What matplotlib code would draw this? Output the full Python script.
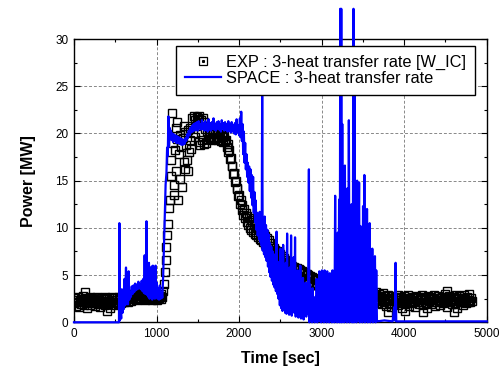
import matplotlib

matplotlib.use("Agg")
import matplotlib.pyplot as plt
import numpy as np
from matplotlib.legend_handler import HandlerTuple
from matplotlib.lines import Line2D
from matplotlib.ticker import MultipleLocator

plt.rcParams["font.family"] = ["Liberation Sans", "DejaVu Sans"]

# EXP measured heat transfer rate [MW], sampled every 10 s from t = 0
EXP_STEP = 10
EXP_POWER = [
    2.0, 2.6, 1.7, 2.4, 2.1, 2.7, 1.6, 2.3, 2.5, 1.9,
    2.2, 2.8, 1.8, 2.5, 2.0, 2.6, 1.5, 2.4, 2.2, 2.7,
    1.8, 2.3, 2.6, 2.0, 2.5, 1.7, 2.4, 2.1, 2.7, 1.9,
    2.4, 2.2, 1.6, 2.6, 2.0, 2.5, 2.3, 1.8, 2.7, 2.1,
    2.5, 1.9, 2.3, 2.6, 1.5, 2.2, 2.7, 2.0, 2.4, 1.8,
    2.6, 2.1, 2.4, 1.9, 2.7, 2.2, 2.5, 2.0, 2.8, 2.3,
    2.6, 2.2, 2.9, 2.4, 2.7, 2.1, 2.8, 2.5, 3.0, 2.3,
    2.7, 3.0, 2.5, 2.9, 2.6, 3.1, 2.4, 2.8, 3.0, 2.6,
    2.9, 2.5, 3.1, 2.7, 2.8, 3.0, 2.4, 2.9, 2.6, 3.1,
    2.5, 2.9, 2.7, 3.0, 2.4, 2.8, 2.6, 3.1, 2.5, 2.9,
    2.7, 2.4, 2.9, 2.6, 2.8, 2.5, 3.0, 2.7, 3.3, 4.1,
    5.3, 6.6, 8.0, 9.2, 10.4, 12.1, 13.0, 15.5, 17.2, 22.2,
    19.0, 14.5, 18.2, 20.6, 16.0, 19.4, 12.9, 17.8, 19.8, 15.2,
    18.6, 14.3, 19.5, 17.0, 20.1, 16.2, 18.8, 17.2, 20.4, 18.0,
    19.3, 20.6, 18.4, 21.6, 20.0, 21.8, 19.6, 21.4, 20.8, 21.7,
    21.5, 19.1, 21.8, 18.8, 21.4, 19.3, 21.6, 18.9, 21.2, 20.5,
    19.0, 20.2, 19.4, 20.0, 19.6, 20.3, 19.3, 19.9, 19.5, 20.2,
    19.4, 20.1, 19.6, 20.2, 19.3, 19.9, 19.5, 20.1, 19.2, 19.8,
    19.6, 19.1, 19.7, 19.2, 19.3, 18.6, 18.9, 18.0, 18.2, 17.3,
    17.4, 16.5, 16.6, 15.7, 15.8, 14.9, 15.0, 14.1, 14.2, 13.4,
    13.5, 12.5, 12.9, 11.9, 12.4, 11.4, 12.0, 11.0, 11.6, 10.6,
    11.3, 10.3, 11.0, 10.0, 10.8, 9.8, 10.6, 9.6, 10.4, 9.4,
    10.2, 9.2, 10.0, 9.0, 9.8, 8.8, 9.7, 8.7, 9.5, 8.5,
    9.3, 8.3, 9.1, 8.1, 8.9, 7.9, 8.7, 7.6, 8.4, 7.4,
    8.1, 7.1, 7.9, 6.9, 7.7, 6.7, 7.5, 6.6, 7.4, 6.5,
    7.2, 6.3, 7.0, 6.1, 6.8, 5.9, 6.6, 5.7, 6.4, 5.6,
    6.3, 5.5, 6.2, 5.3, 6.0, 5.2, 5.9, 5.1, 5.8, 5.0,
    5.7, 4.9, 5.6, 4.8, 5.5, 4.7, 5.4, 4.6, 5.3, 4.5,
    5.2, 4.4, 5.1, 4.3, 5.0, 4.3, 4.9, 4.2, 4.8, 4.1,
    4.7, 4.0, 4.6, 3.9, 4.6, 3.9, 4.5, 3.8, 4.4, 3.7,
    4.3, 3.7, 4.3, 3.6, 4.2, 3.6, 4.1, 3.5, 4.1, 3.5,
    4.0, 3.4, 4.0, 3.4, 3.9, 3.3, 3.9, 3.3, 3.8, 3.2,
    3.8, 3.2, 3.7, 3.1, 3.7, 3.1, 3.6, 3.0, 3.6, 3.0,
    3.5, 2.9, 3.5, 2.9, 3.4, 2.8, 3.4, 2.8, 3.3, 2.7,
    3.3, 2.7, 3.2, 2.6, 3.2, 2.6, 3.1, 2.5, 3.1, 2.5,
    3.0, 2.4, 3.0, 2.4, 2.9, 2.3, 2.9, 2.3, 2.8, 2.2,
    3.3, 2.6, 3.1, 2.2, 2.9, 2.5, 3.2, 2.0, 2.8, 2.4,
    3.0, 2.3, 2.7, 1.9, 3.1, 2.5, 2.2, 2.8, 1.7, 2.6,
    2.4, 2.9, 2.0, 2.6, 1.6, 2.8, 2.3, 2.5, 1.9, 2.7,
    2.2, 2.6, 1.8, 2.9, 2.4, 2.0, 2.7, 1.5, 2.5, 2.3,
    2.8, 1.9, 2.4, 2.6, 2.1, 2.9, 1.7, 2.5, 2.2, 2.7,
    2.0, 2.6, 2.3, 1.6, 2.8, 2.4, 2.1, 2.7, 1.9, 2.5,
    2.6, 2.2, 2.9, 1.8, 2.4, 2.7, 2.0, 2.5, 1.5, 2.8,
    2.3, 2.6, 1.9, 2.7, 2.2, 2.5, 2.9, 1.7, 2.4, 2.6,
    2.1, 2.8, 2.4, 1.8, 2.6, 2.3, 2.7, 2.0, 2.5, 3.0,
    2.2, 2.6, 1.6, 2.4, 2.8, 2.1, 2.5, 2.7, 1.9, 2.3,
    2.7, 2.0, 2.5, 2.9, 1.5, 2.6, 2.3, 2.8, 2.1, 2.4,
    2.6, 1.8, 2.9, 2.3, 2.5, 2.0, 2.7, 2.2, 3.0, 2.4,
    2.1, 2.6, 2.3,
]

# isolated EXP samples lying off the main band
EXP_OUTLIER_TIME = [130, 400, 1215, 1250, 1330, 1385, 3810, 4010, 4230, 4515, 4600]
EXP_OUTLIER_POWER = [3.2, 1.2, 13.5, 21.2, 20.8, 16.0, 1.1, 1.2, 1.1, 3.3, 1.1]

# SPACE calculated heat transfer rate [MW]
SPACE_TIME = [
    0, 545, 550, 556, 565, 572, 580, 588, 596, 604,
    612, 620, 630, 638, 646, 654, 662, 670, 680, 690,
    700, 710, 720, 730, 740, 750, 760, 770, 780, 790,
    800, 810, 820, 830, 840, 848, 856, 864, 872, 878,
    884, 892, 900, 908, 916, 924, 932, 940, 948, 956,
    964, 972, 980, 988, 996, 1004, 1012, 1020, 1030, 1040,
    1050, 1060, 1070, 1080, 1090, 1100, 1110, 1120, 1128, 1136,
    1144, 1150, 1158, 1166, 1174, 1182, 1190, 1200, 1210, 1220,
    1230, 1240, 1250, 1260, 1270, 1280, 1290, 1300, 1310, 1320,
    1330, 1340, 1350, 1360, 1370, 1380, 1390, 1400, 1410, 1420,
    1430, 1440, 1450, 1460, 1470, 1480, 1490, 1500, 1510, 1520,
    1530, 1540, 1550, 1560, 1570, 1580, 1590, 1600, 1610, 1620,
    1630, 1640, 1650, 1660, 1670, 1680, 1690, 1700, 1710, 1720,
    1730, 1740, 1750, 1760, 1770, 1780, 1790, 1800, 1810, 1820,
    1830, 1840, 1850, 1860, 1870, 1880, 1890, 1900, 1910, 1920,
    1930, 1940, 1950, 1960, 1970, 1980, 1990, 2000, 2010, 2018,
    2026, 2034, 2042, 2050, 2058, 2066, 2074, 2082, 2090, 2098,
    2106, 2114, 2122, 2130, 2138, 2146, 2154, 2162, 2170, 2178,
    2186, 2194, 2202, 2210, 2218, 2226, 2234, 2242, 2250, 2258,
    2266, 2274, 2280, 2286, 2294, 2302, 2310, 2318, 2326, 2334,
    2342, 2350, 2358, 2366, 2374, 2382, 2390, 2398, 2406, 2414,
    2422, 2430, 2438, 2446, 2454, 2462, 2470, 2478, 2486, 2494,
    2502, 2510, 2518, 2526, 2534, 2542, 2550, 2558, 2566, 2574,
    2582, 2590, 2598, 2606, 2614, 2622, 2630, 2638, 2646, 2654,
    2662, 2670, 2678, 2686, 2694, 2702, 2710, 2718, 2726, 2734,
    2742, 2750, 2758, 2766, 2774, 2782, 2790, 2798, 2806, 2814,
    2822, 2830, 2838, 2846, 2852, 2860, 2868, 2876, 2884, 2892,
    2900, 2908, 2916, 2924, 2932, 2940, 2948, 2956, 2964, 2972,
    2980, 2988, 2996, 3004, 3012, 3020, 3028, 3036, 3044, 3052,
    3060, 3068, 3076, 3084, 3092, 3100, 3108, 3116, 3124, 3132,
    3140, 3148, 3156, 3164, 3172, 3180, 3188, 3196, 3204, 3212,
    3220, 3226, 3232, 3238, 3244, 3250, 3258, 3266, 3274, 3282,
    3290, 3298, 3306, 3314, 3322, 3330, 3338, 3346, 3354, 3362,
    3370, 3378, 3386, 3392, 3398, 3406, 3414, 3422, 3430, 3438,
    3446, 3454, 3462, 3470, 3478, 3486, 3494, 3502, 3510, 3518,
    3526, 3534, 3542, 3550, 3558, 3566, 3574, 3582, 3590, 3598,
    3606, 3614, 3622, 3630, 3638, 3646, 3654, 3662, 3670, 3680,
    3760, 3860, 3880, 3888, 3896, 3904, 3914, 5000,
]
SPACE_POWER = [
    0.0, 0.0, 10.5, 0.2, 1.2, 0.4, 3.5, 1.0, 2.6, 1.4,
    4.6, 1.8, 5.8, 2.0, 3.4, 1.9, 5.4, 2.4, 3.2, 2.7,
    3.8, 3.0, 3.9, 3.2, 4.1, 3.4, 4.0, 3.5, 4.3, 3.6,
    4.0, 3.5, 4.4, 3.3, 4.6, 3.1, 7.1, 3.0, 5.2, 10.7,
    2.9, 5.6, 2.7, 6.3, 2.5, 4.6, 2.6, 5.9, 2.4, 6.0,
    2.7, 4.8, 2.5, 6.0, 2.8, 4.2, 2.5, 3.6, 2.4, 3.9,
    2.5, 3.2, 2.6, 4.8, 7.9, 11.3, 14.6, 15.8, 18.5, 17.6,
    21.8, 18.6, 20.6, 19.4, 20.3, 19.3, 20.0, 19.1, 19.9, 19.2,
    19.8, 19.0, 19.7, 19.0, 19.6, 18.9, 19.5, 18.8, 19.4, 18.8,
    19.3, 18.9, 19.5, 19.2, 19.9, 19.5, 20.3, 19.8, 20.6, 20.1,
    20.8, 20.2, 21.0, 20.3, 21.1, 20.4, 21.2, 20.3, 21.3, 20.5,
    21.0, 20.4, 21.4, 20.5, 21.1, 20.3, 21.3, 20.4, 21.0, 20.2,
    21.5, 20.4, 21.1, 20.3, 21.2, 20.5, 21.6, 20.4, 21.0, 20.3,
    21.2, 20.5, 21.3, 20.4, 21.0, 20.2, 21.4, 20.5, 21.1, 20.3,
    21.2, 20.4, 21.0, 20.2, 21.3, 20.3, 21.0, 20.1, 21.2, 20.2,
    20.9, 20.0, 21.1, 19.9, 21.5, 20.1, 20.9, 19.8, 21.6, 19.6,
    22.3, 19.2, 21.0, 17.8, 20.2, 16.9, 19.0, 16.2, 17.8, 15.4,
    16.9, 14.8, 16.5, 13.9, 16.2, 13.2, 15.6, 12.4, 15.4, 11.6,
    13.8, 10.6, 12.9, 9.8, 11.6, 9.2, 10.9, 8.8, 11.7, 8.5,
    10.4, 8.1, 24.6, 7.6, 10.9, 7.2, 11.2, 6.9, 10.3, 6.5,
    9.8, 5.9, 9.3, 5.3, 8.4, 4.8, 8.0, 4.4, 7.5, 4.0,
    7.2, 3.7, 6.8, 3.3, 9.6, 3.0, 6.4, 2.5, 5.9, 1.8,
    7.8, 1.5, 5.4, 1.2, 8.2, 1.6, 5.0, 1.0, 6.3, 0.9,
    9.4, 1.4, 4.6, 0.8, 5.8, 1.2, 9.2, 0.7, 4.3, 1.5,
    6.9, 1.0, 9.0, 0.6, 4.0, 1.3, 5.5, 0.5, 3.8, 1.6,
    6.0, 0.4, 3.2, 1.1, 4.7, 0.3, 2.9, 1.0, 4.2, 0.6,
    3.5, 0.9, 5.1, 16.2, 0.0, 4.0, 0.4, 2.5, 0.0, 3.6,
    0.3, 1.9, 0.0, 2.7, 0.5, 4.6, 0.0, 2.2, 0.3, 5.4,
    0.1, 3.1, 0.0, 5.5, 0.2, 2.4, 0.0, 5.5, 0.4, 3.0,
    0.0, 5.4, 0.2, 2.6, 0.0, 5.2, 0.3, 1.9, 0.0, 5.5,
    0.1, 3.3, 0.0, 13.4, 0.2, 4.6, 0.0, 9.5, 0.1, 13.0,
    0.0, 33.2, 0.3, 33.2, 0.0, 21.0, 0.2, 10.8, 0.0, 16.6,
    0.4, 8.5, 0.0, 14.2, 0.3, 21.4, 0.0, 9.0, 0.2, 12.5,
    0.0, 6.8, 33.2, 0.0, 25.0, 0.3, 11.0, 0.0, 15.0, 0.2,
    7.3, 14.8, 0.0, 10.2, 0.3, 5.8, 0.0, 12.3, 0.2, 15.6,
    0.0, 9.1, 0.4, 12.0, 0.0, 6.5, 0.3, 10.5, 0.0, 4.8,
    0.2, 7.8, 0.0, 3.9, 0.3, 7.0, 0.0, 5.5, 0.2, 0.1,
    0.2, 0.1, 1.6, 0.2, 6.3, 0.1, 0.1, 0.1,
]

LABELS = ["EXP : 3-heat transfer rate [W_IC]", "SPACE : 3-heat transfer rate"]
BLUE = "#0000ff"

exp_time = np.arange(len(EXP_POWER)) * EXP_STEP

fig = plt.figure(figsize=(5.03, 3.67), dpi=100)
ax = fig.add_axes([0.1471, 0.1218, 0.8205, 0.7719])

marker_style = dict(ls="none", marker="s", ms=5.5, mfc="none", mec="black", mew=1.0)
ax.plot(exp_time, EXP_POWER, zorder=2, **marker_style)
ax.plot(EXP_OUTLIER_TIME, EXP_OUTLIER_POWER, zorder=2, **marker_style)
ax.plot(SPACE_TIME, SPACE_POWER, color=BLUE, lw=1.6, zorder=3, clip_on=False)

ax.set_xlim(0, 5000)
ax.set_ylim(0, 30)
ax.xaxis.set_major_locator(MultipleLocator(1000))
ax.xaxis.set_minor_locator(MultipleLocator(500))
ax.yaxis.set_major_locator(MultipleLocator(5))
ax.yaxis.set_minor_locator(MultipleLocator(2.5))
ax.tick_params(which="both", direction="in", top=True, right=True, width=0.8,
               labelsize=8.5, pad=4)
ax.tick_params(which="major", length=4)
ax.tick_params(which="minor", length=2.5)
ax.grid(which="major", color="#888888", ls=(0, (3, 2)), lw=0.7)
ax.set_axisbelow(True)
for spine in ax.spines.values():
    spine.set_linewidth(1.0)

ax.set_xlabel("Time [sec]", fontsize=11.5, fontweight="bold", labelpad=8)
ax.set_ylabel("Power [MW]", fontsize=11.5, fontweight="bold", labelpad=14)

h_square = Line2D([], [], ls="none", marker="s", ms=5.5, mfc="none", mec="black", mew=0.9)
h_dot = Line2D([], [], ls="none", marker="s", ms=1.2, mfc="black", mec="black")
h_line = Line2D([], [], color=BLUE, lw=1.6)
legend = ax.legend(
    [(h_square, h_dot), h_line],
    LABELS,
    handler_map={tuple: HandlerTuple(ndivide=1)},
    loc="upper right",
    bbox_to_anchor=(0.9717, 0.9753),
    borderaxespad=0,
    fontsize=11.8,
    fancybox=False,
    framealpha=1,
    edgecolor="black",
    handlelength=2.2,
    handletextpad=0.3,
    labelspacing=0.05,
    borderpad=0.55,
)
legend.get_frame().set_linewidth(1.0)

fig.savefig("out.png", dpi=100)
plt.close(fig)
